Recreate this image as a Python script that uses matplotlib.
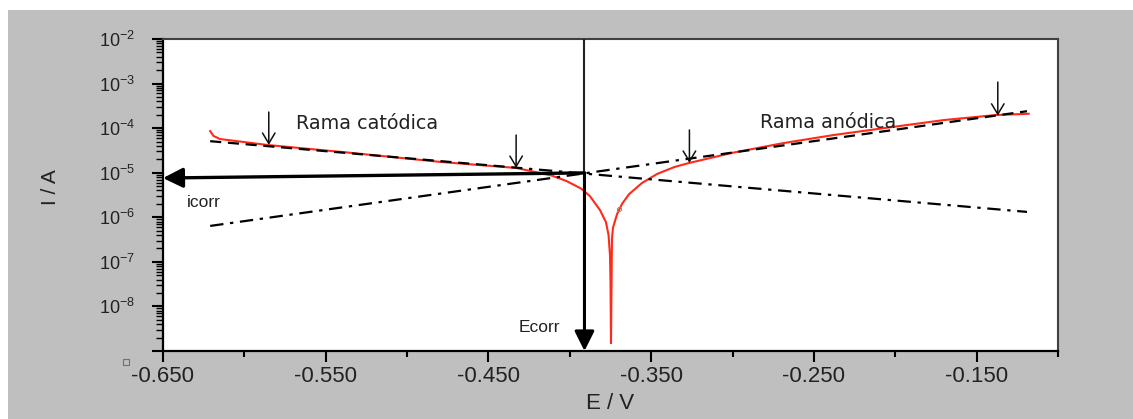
import matplotlib
matplotlib.use("Agg")
import matplotlib.pyplot as plt
from matplotlib.patches import Rectangle
from matplotlib.ticker import LogLocator, NullFormatter, FixedLocator, FixedFormatter

plt.rcParams["font.family"] = ["Liberation Sans", "DejaVu Sans"]
plt.rcParams["mathtext.fontset"] = "custom"
plt.rcParams["mathtext.rm"] = "Liberation Sans"
plt.rcParams["axes.unicode_minus"] = False

# Measured polarization curve (potential in V, current in A)
E_meas = [-0.621, -0.619, -0.615, -0.586, -0.535, -0.479, -0.433, -0.411,
          -0.402, -0.393, -0.3877, -0.3815, -0.3778, -0.3762, -0.3753,
          -0.3750, -0.3747,
          -0.3744, -0.3741, -0.3735, -0.3710, -0.3679, -0.3636, -0.3556,
          -0.3463, -0.3358, -0.3265, -0.300, -0.269, -0.238, -0.207, -0.170,
          -0.138, -0.118]
I_meas = [8.6e-5, 6.7e-5, 5.7e-5, 4.2e-5, 2.8e-5, 1.74e-5, 1.28e-5, 8.6e-6,
          6.5e-6, 4.4e-6, 3.0e-6, 1.46e-6, 7.8e-7, 4.0e-7, 1.4e-7,
          3.9e-8, 1.5e-9,
          2.3e-8, 3.2e-7, 5.8e-7, 1.17e-6, 2.0e-6, 3.3e-6, 5.9e-6,
          9.4e-6, 1.34e-5, 1.66e-5, 2.8e-5, 4.6e-5, 7.0e-5, 1.0e-4, 1.52e-4,
          1.97e-4, 2.1e-4]

# Tafel lines (end points)
E_tafel = [-0.621, -0.119]
I_tafel_cat = [5.1e-5, 1.32e-6]
I_tafel_an = [6.4e-7, 2.4e-4]
fit_range_cat = [-0.621, -0.430]
fit_range_an = [-0.330, -0.119]

# Corrosion point
E_corr = -0.391
i_corr = 9.9e-6
i_corr_axis = 7.6e-6

# Small markers of the Tafel fit limits
mark_E = [-0.585, -0.433, -0.3265, -0.137]
mark_tip = [4.2e-5, 1.28e-5, 1.66e-5, 1.9e-4]
mark_tail = [2.3e-4, 7.0e-5, 9.1e-5, 1.08e-3]

x_ticks = [-0.65, -0.55, -0.45, -0.35, -0.25, -0.15]
x_ticklabels = ["-0.650", "-0.550", "-0.450", "-0.350", "-0.250", "-0.150"]
x_minor = [-0.60, -0.50, -0.40, -0.30, -0.20, -0.10]
y_ticks = [1e-9, 1e-8, 1e-7, 1e-6, 1e-5, 1e-4, 1e-3, 1e-2]
y_ticklabels = ["", r"$\mathregular{10^{-8}}$", r"$\mathregular{10^{-7}}$",
                r"$\mathregular{10^{-6}}$", r"$\mathregular{10^{-5}}$",
                r"$\mathregular{10^{-4}}$", r"$\mathregular{10^{-3}}$",
                r"$\mathregular{10^{-2}}$"]

W, H = 1133, 419
fig = plt.figure(figsize=(W / 100, H / 100), dpi=100, facecolor="white")
fig.patches.append(Rectangle((8 / W, 0), 1 - 8 / W, 1 - 10 / H,
                             transform=fig.transFigure, facecolor="#bfbfbf",
                             edgecolor="none", zorder=-10))
# tiny open square near the lower-left corner
fig.patches.append(Rectangle((123 / W, 1 - 365 / H), 6 / W, 6 / H,
                             transform=fig.transFigure, facecolor="none",
                             edgecolor="#707070", lw=0.8))

ax = fig.add_axes([163 / W, 1 - 351 / H, (1058 - 163) / W, (351 - 39) / H])
ax.set_facecolor("white")
ax.set_yscale("log")
ax.set_xlim(-0.65, -0.10)
ax.set_ylim(1e-9, 1e-2)

# measured curve
ax.plot(E_meas, I_meas, color="#ff2a1a", lw=1.5, zorder=2)
ax.plot([-0.3698], [1.5e-6], marker="o", ms=3, mfc="none", mec="#888888",
        mew=0.7, zorder=3)


def clipped_line(E, I, rng, dashes):
    ln, = ax.plot(E, I, color="black", lw=1.6, zorder=3, dashes=dashes)
    clip = Rectangle((rng[0], 1e-12), rng[1] - rng[0], 1.0,
                     transform=ax.transData, facecolor="none", edgecolor="none")
    ln.set_clip_path(clip)
    return ln


dashed = (5, 3)
dashdot = (6, 3, 1.5, 3)
clipped_line(E_tafel, I_tafel_cat, fit_range_cat, dashed)
clipped_line(E_tafel, I_tafel_cat, [fit_range_cat[1], E_tafel[1]], dashdot)
clipped_line(E_tafel, I_tafel_an, [E_tafel[0], fit_range_an[0]], dashdot)
clipped_line(E_tafel, I_tafel_an, fit_range_an, dashed)

# Ecorr vertical line and arrow
ax.plot([E_corr, E_corr], [1e-2, i_corr], color="#222222", lw=1.5, zorder=4)
ax.annotate("", xy=(E_corr, 1e-9), xytext=(E_corr, i_corr),
            arrowprops=dict(arrowstyle="-|>,head_length=0.6,head_width=0.3",
                            color="black", lw=2.2, shrinkA=0, shrinkB=0,
                            mutation_scale=20), zorder=5)
# icorr arrow
ax.annotate("", xy=(-0.65, i_corr_axis), xytext=(E_corr, i_corr),
            arrowprops=dict(arrowstyle="-|>,head_length=0.6,head_width=0.3",
                            color="black", lw=2.4, shrinkA=0, shrinkB=0,
                            mutation_scale=20), zorder=5, annotation_clip=False)

for e, tip, tail in zip(mark_E, mark_tip, mark_tail):
    ax.annotate("", xy=(e, tip), xytext=(e, tail),
                arrowprops=dict(arrowstyle="->,head_length=0.5,head_width=0.3",
                                color="#111111", lw=1.1, shrinkA=0, shrinkB=0,
                                mutation_scale=15), zorder=6)

ax.text(-0.568, 9.6e-5, "Rama catódica", family="DejaVu Sans", fontsize=13.8,
        color="#222222", va="baseline", ha="left", zorder=7)
ax.text(-0.2833, 1.0e-4, "Rama anódica", family="DejaVu Sans", fontsize=13.8,
        color="#222222", va="baseline", ha="left", zorder=7)
ax.text(-0.6352, 1.7e-6, "icorr", fontsize=12.5, color="#222222",
        va="baseline", ha="left")
ax.text(-0.4315, 2.7e-9, "Ecorr", fontsize=12.5, color="#222222",
        va="baseline", ha="left")

# axes styling
for side in ("top", "right"):
    ax.spines[side].set_color("#404040")
    ax.spines[side].set_linewidth(1.5)
for side in ("bottom", "left"):
    ax.spines[side].set_color("black")
    ax.spines[side].set_linewidth(1.6)

ax.xaxis.set_major_locator(FixedLocator(x_ticks))
ax.xaxis.set_major_formatter(FixedFormatter(x_ticklabels))
ax.xaxis.set_minor_locator(FixedLocator(x_minor))
ax.yaxis.set_major_locator(FixedLocator(y_ticks))
ax.yaxis.set_major_formatter(FixedFormatter(y_ticklabels))
ax.yaxis.set_minor_locator(LogLocator(base=10, subs=range(2, 10), numticks=20))
ax.yaxis.set_minor_formatter(NullFormatter())

ax.tick_params(axis="x", which="major", direction="out", length=8, width=1.5,
               labelsize=16, pad=3, color="black", labelcolor="#222222")
ax.tick_params(axis="x", which="minor", direction="out", length=4, width=1.5,
               color="black")
ax.tick_params(axis="y", which="major", direction="out", length=8, width=1.5,
               labelsize=13, pad=12, color="black", labelcolor="#222222")
ax.tick_params(axis="y", which="minor", direction="out", length=5, width=1.0,
               color="black")

ax.set_xlabel("E / V", fontsize=16, color="#222222")
ax.xaxis.set_label_coords(0.5, -0.167)
ax.xaxis.label.set_va("center")
ax.set_ylabel("I / A", fontsize=15, color="#222222")
ax.yaxis.set_label_coords(-0.126, 0.526)
ax.yaxis.label.set_va("center")

fig.savefig("out.png", dpi=100, facecolor=fig.get_facecolor())
